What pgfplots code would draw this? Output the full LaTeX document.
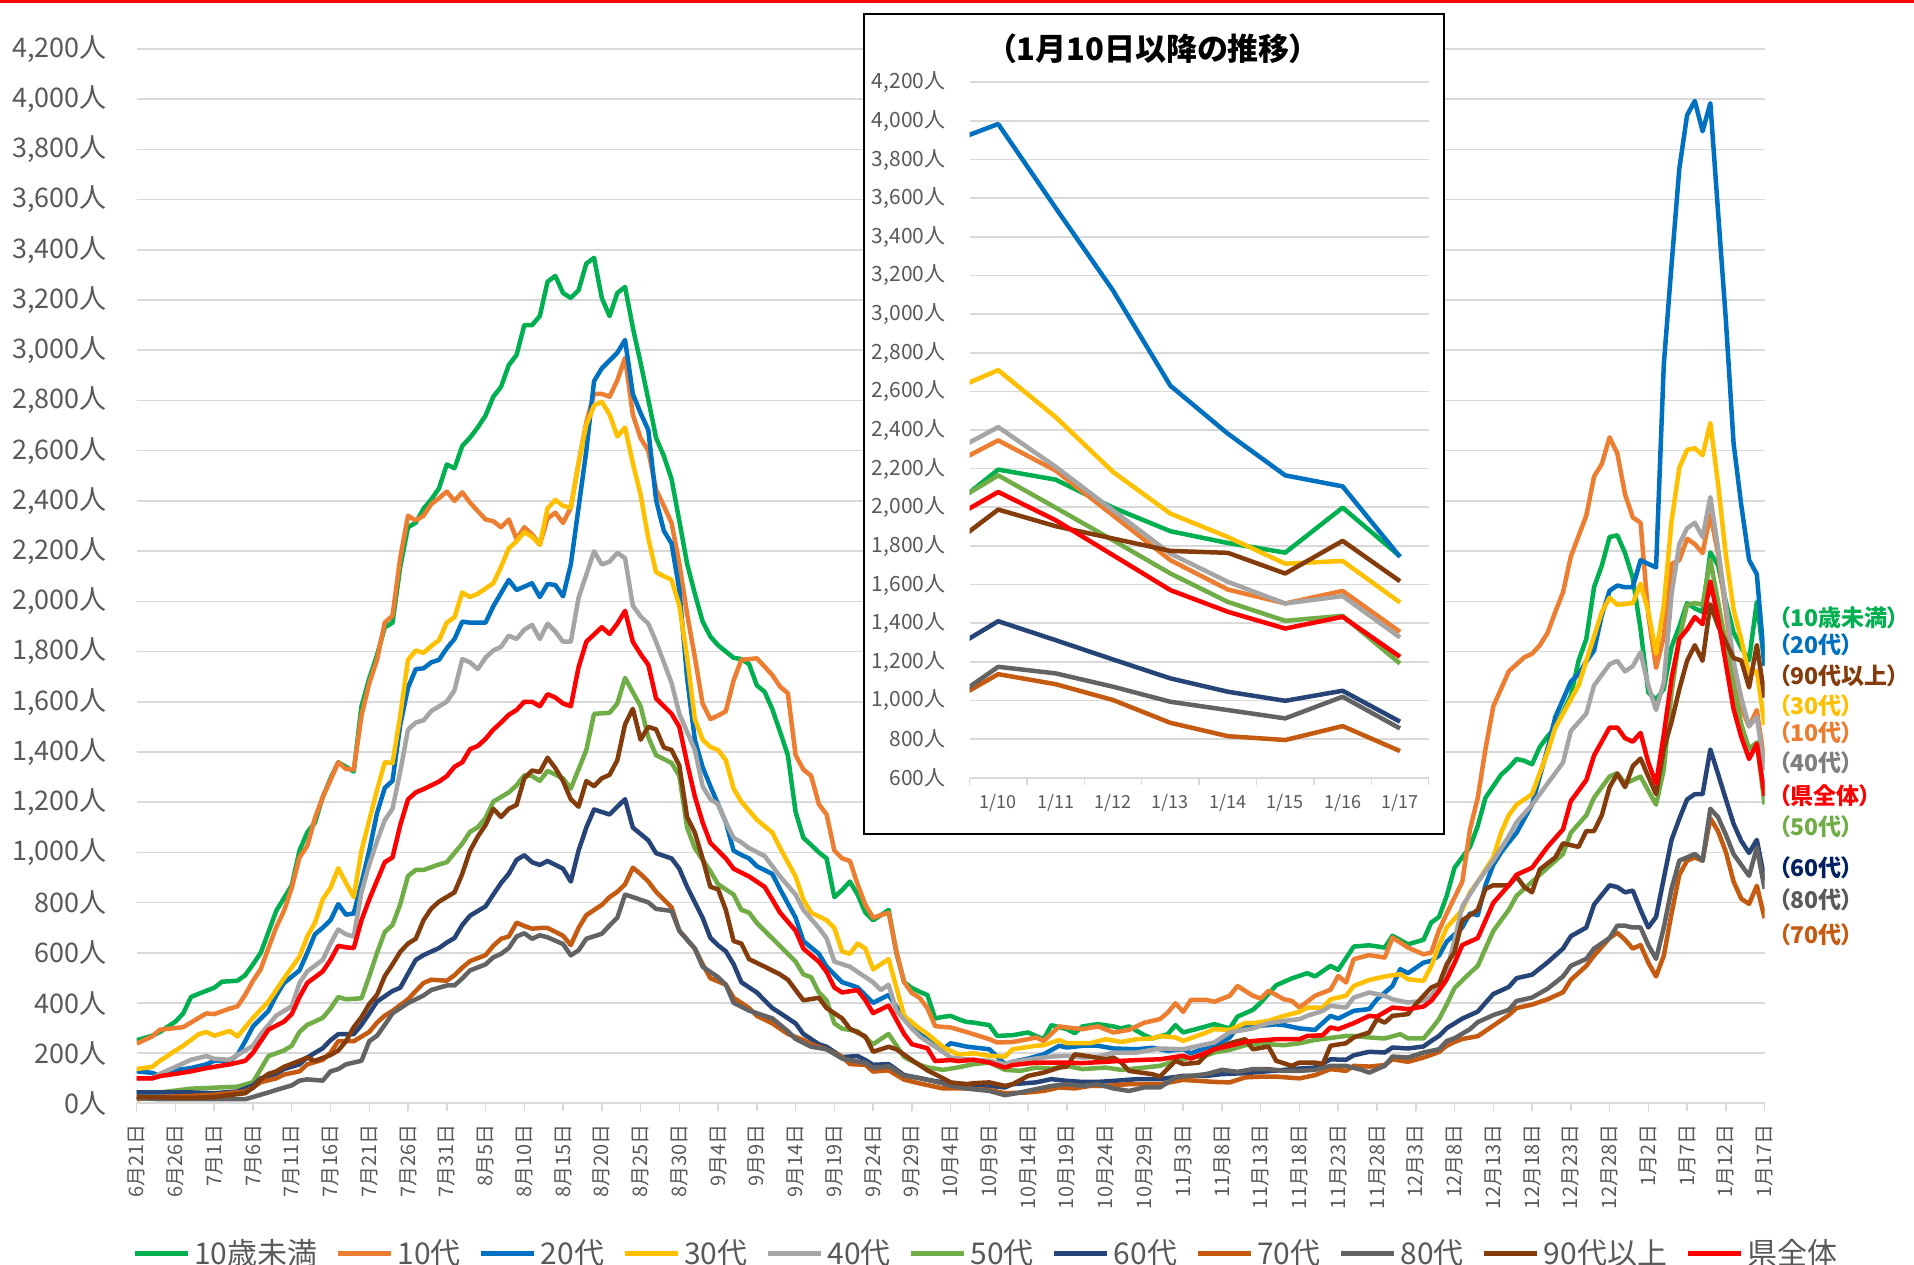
\documentclass[border=0pt]{standalone}
\usepackage{fontspec}
\setmainfont{Noto Sans CJK JP}
\newfontfamily\jpp{Noto Sans CJK JP}[RawFeature=+palt]
\usepackage{pgfplots}
\usepackage{pgfplotstable}
\pgfplotsset{compat=1.18}
\definecolor{cA}{HTML}{00B050}
\definecolor{cB}{HTML}{ED7D31}
\definecolor{cC}{HTML}{0070C0}
\definecolor{cD}{HTML}{FFC000}
\definecolor{cE}{HTML}{A5A5A5}
\definecolor{cF}{HTML}{70AD47}
\definecolor{cG}{HTML}{264478}
\definecolor{cH}{HTML}{C55A11}
\definecolor{cI}{HTML}{636363}
\definecolor{cJ}{HTML}{843C0C}
\definecolor{cK}{HTML}{FF0000}
\definecolor{gridc}{HTML}{D9D9D9}
\definecolor{txtc}{HTML}{595959}
\definecolor{lab40}{HTML}{7F7F7F}
\definecolor{lab60}{HTML}{002060}

\pgfplotstableread{
d v
0 252
2 270
3 285
5 326
6 359
7 424
8 437
10 461
11 485
13 489
14 511
15 554
16 600
17 683
18 767
20 869
21 1007
22 1080
23 1119
24 1220
25 1295
26 1359
27 1341
28 1322
29 1582
30 1693
31 1785
32 1896
33 1915
34 2137
35 2295
36 2313
37 2369
38 2406
39 2450
40 2545
41 2530
42 2619
43 2652
44 2693
45 2740
46 2815
47 2854
48 2941
49 2981
50 3100
51 3100
52 3136
53 3273
54 3296
55 3228
56 3208
57 3239
58 3345
59 3368
60 3208
61 3136
62 3228
63 3252
64 3090
65 2950
66 2803
67 2651
68 2579
69 2486
70 2320
71 2150
72 2030
73 1920
74 1860
75 1825
76 1800
77 1775
78 1770
79 1750
80 1665
81 1640
82 1570
83 1480
84 1387
85 1161
86 1058
87 1030
88 1000
89 976
90 822
91 850
92 884
93 832
94 760
95 730
96 750
97 771
98 600
99 483
100 460
101 445
102 432
103 339
104 345
105 349
106 336
107 325
108 322
110 312
111 269
113 272
115 283
116 269
117 256
118 312
120 296
121 280
122 307
124 316
126 307
127 299
128 307
130 272
131 259
133 276
134 312
135 283
137 299
139 316
141 299
142 346
144 373
145 402
147 471
149 498
151 519
152 506
154 548
155 532
157 625
159 630
161 621
162 668
164 634
166 652
167 721
168 743
169 827
170 939
172 1022
173 1106
174 1218
176 1309
177 1337
178 1372
179 1365
180 1351
181 1420
182 1462
183 1497
185 1623
186 1763
187 1850
188 2056
189 2142
190 2256
191 2263
192 2192
193 2093
194 1888
195 1637
196 1609
197 1651
198 1818
199 1900
200 1993
201 1972
202 1958
203 2195
204 2143
205 1998
206 1876
207 1815
208 1765
209 1998
210 1746
}\tA

\pgfplotstableread{
d v
0 239
2 267
3 294
6 304
8 341
9 359
10 356
12 378
13 387
14 433
15 489
16 535
17 619
18 702
19 767
20 859
21 980
22 1026
23 1137
24 1220
25 1289
26 1359
27 1332
28 1330
29 1545
30 1674
31 1767
32 1915
33 1943
34 2174
35 2341
36 2322
37 2341
38 2387
39 2411
40 2437
41 2400
42 2434
43 2393
45 2326
46 2319
47 2295
48 2326
49 2248
50 2295
51 2267
52 2226
53 2330
54 2353
55 2312
56 2373
57 2550
58 2713
59 2826
60 2826
61 2815
62 2880
63 2970
64 2744
65 2650
66 2600
67 2445
68 2380
69 2312
70 2150
71 1950
72 1778
73 1593
74 1531
75 1545
76 1562
77 1685
78 1767
79 1770
80 1773
81 1740
82 1706
83 1660
84 1634
85 1387
86 1330
87 1305
88 1192
89 1151
90 1007
91 976
92 966
93 873
94 791
95 740
96 750
97 760
98 606
99 483
100 440
101 421
102 380
103 308
104 305
105 303
107 285
110 256
111 243
113 245
115 256
116 263
117 249
119 307
120 303
122 296
124 307
126 283
128 293
130 322
132 336
133 362
134 399
135 365
136 413
138 413
139 405
141 429
142 468
144 429
145 418
146 449
148 415
149 409
150 382
152 429
154 453
155 508
156 482
157 575
159 591
161 581
162 661
164 621
166 594
167 601
168 690
169 757
171 883
172 1092
173 1218
174 1413
175 1581
176 1651
177 1721
178 1749
179 1777
180 1791
181 1825
182 1874
183 1958
184 2036
185 2178
186 2260
187 2341
188 2497
189 2547
190 2653
191 2589
192 2426
193 2334
194 2313
195 1944
196 1735
197 1860
198 2149
199 2164
200 2249
201 2228
202 2192
203 2346
204 2190
205 1958
206 1726
207 1574
208 1502
209 1567
210 1355
}\tB

\pgfplotstableread{
d v
0 128
2 122
3 109
5 133
7 141
9 156
10 170
12 170
13 193
14 248
15 307
17 369
18 430
19 480
21 530
22 600
23 674
24 700
25 730
26 794
27 752
28 757
29 878
30 1007
31 1156
32 1257
33 1285
34 1508
35 1656
36 1730
37 1733
38 1757
39 1767
40 1813
41 1850
42 1919
43 1915
45 1915
46 1980
48 2085
49 2045
51 2072
52 2017
53 2069
54 2065
55 2020
56 2147
57 2373
58 2600
59 2877
60 2928
61 2959
62 2990
63 3041
64 2826
65 2750
66 2682
67 2404
68 2281
69 2230
70 2045
71 1695
72 1449
73 1340
74 1264
75 1192
76 1120
77 1007
78 990
79 976
80 945
82 914
83 853
85 740
86 647
88 596
89 545
91 483
92 473
93 462
95 401
97 432
99 339
101 277
102 257
104 216
105 240
107 227
108 223
110 216
112 157
113 166
115 179
117 196
119 230
120 223
122 230
124 230
126 219
129 216
131 222
133 210
135 216
136 200
138 223
139 230
141 263
142 303
144 307
147 315
148 312
150 299
152 293
154 349
155 338
157 369
159 376
160 415
162 468
163 535
164 519
166 561
167 568
168 589
169 645
171 701
172 757
173 750
174 870
175 950
176 1000
177 1040
178 1078
179 1134
180 1190
181 1302
182 1413
183 1539
184 1609
185 1680
186 1710
187 1760
188 1804
189 1944
190 2042
191 2063
192 2056
193 2057
194 2164
195 2149
196 2135
197 2944
198 3341
199 3723
200 3936
201 3993
202 3872
203 3984
204 3550
205 3122
206 2629
207 2381
208 2165
209 2108
210 1743
}\tC

\pgfplotstableread{
d v
0 137
2 146
3 170
5 211
6 230
8 276
9 285
10 270
12 289
13 267
14 304
15 341
17 406
18 452
19 498
21 585
22 665
23 720
24 813
25 859
26 937
27 878
28 822
29 1007
30 1128
31 1248
32 1359
33 1356
34 1545
35 1767
36 1804
37 1795
38 1822
39 1845
40 1915
41 1937
42 2035
43 2017
44 2030
46 2072
47 2137
48 2211
49 2239
50 2276
51 2257
52 2225
53 2370
54 2404
55 2380
56 2373
57 2550
58 2703
59 2780
60 2795
61 2744
62 2657
63 2692
64 2550
65 2425
66 2250
67 2116
68 2100
69 2086
70 1983
71 1778
72 1531
73 1449
74 1420
75 1408
76 1367
77 1254
78 1202
80 1130
82 1079
83 1017
85 904
86 812
87 760
89 730
90 699
91 606
92 596
93 637
94 617
95 534
97 575
98 462
99 349
101 298
102 277
104 226
105 210
106 195
108 200
110 190
112 187
113 216
116 230
117 232
119 253
120 240
123 240
125 256
127 245
129 256
131 259
132 269
134 263
135 249
138 283
139 296
141 293
143 320
144 320
146 329
148 349
150 365
151 382
153 382
154 415
156 429
157 468
159 492
161 506
163 515
164 495
166 488
167 548
168 628
169 701
171 771
172 841
173 883
175 980
176 1078
177 1148
178 1190
180 1232
181 1316
182 1399
183 1497
185 1609
186 1665
187 1763
188 1860
189 1958
190 2014
191 1986
193 1993
194 2070
195 1958
196 1791
197 1986
198 2320
199 2532
200 2603
201 2610
202 2582
203 2710
204 2467
205 2183
206 1967
207 1846
208 1708
209 1722
210 1507
}\tD

\pgfplotstableread{
d v
0 100
2 100
3 118
5 146
7 174
9 189
10 178
12 174
13 193
15 230
16 276
17 313
18 350
20 387
21 480
22 526
24 572
25 637
26 693
27 674
28 665
29 841
30 952
31 1045
32 1128
33 1174
34 1322
35 1489
36 1517
37 1526
38 1563
40 1600
41 1646
42 1770
43 1757
44 1730
45 1776
46 1804
47 1819
48 1863
49 1850
50 1887
51 1906
52 1850
53 1911
54 1880
55 1839
56 1839
57 2014
58 2106
59 2199
60 2147
61 2158
62 2193
63 2172
64 1983
65 1940
66 1911
67 1839
68 1757
69 1675
70 1552
71 1480
72 1408
73 1264
74 1212
75 1192
76 1120
77 1058
78 1040
79 1017
81 986
82 945
83 904
85 832
86 771
88 699
89 658
90 565
92 545
93 524
95 483
96 452
97 473
98 370
100 298
101 267
104 206
105 183
107 176
110 170
112 157
113 166
116 179
118 187
120 190
122 183
124 187
126 203
129 203
132 219
135 216
136 223
138 236
139 243
141 283
144 299
146 320
148 329
150 336
151 349
153 369
154 389
156 382
157 422
159 442
161 429
162 415
164 402
166 409
167 429
168 470
169 530
170 650
171 785
173 883
175 967
177 1064
178 1120
180 1190
182 1274
184 1358
185 1483
187 1553
188 1665
190 1749
191 1763
192 1721
193 1742
194 1797
195 1665
196 1567
197 1679
198 2028
199 2228
200 2291
201 2313
202 2256
203 2415
204 2210
205 1984
206 1760
207 1614
208 1502
209 1540
210 1326
}\tE

\pgfplotstableread{
d v
0 44
3 44
7 59
10 63
13 67
15 85
16 137
17 189
19 211
20 230
21 285
22 313
24 341
25 378
26 424
27 415
29 419
30 507
31 600
32 683
33 711
34 794
35 906
36 930
37 930
39 952
40 961
41 998
42 1035
43 1082
44 1100
45 1137
46 1202
48 1239
49 1267
50 1307
51 1304
52 1285
53 1325
55 1295
56 1254
58 1408
59 1552
61 1556
62 1593
63 1695
65 1582
66 1459
67 1387
69 1356
70 1305
71 1099
72 1017
74 925
75 873
77 832
78 771
79 760
80 719
81 688
83 627
85 565
86 514
87 503
88 442
89 411
90 319
91 298
93 288
95 236
97 277
99 185
101 154
102 144
104 134
106 144
108 157
110 163
112 134
114 130
116 143
118 139
120 150
122 137
125 143
127 134
130 143
132 150
134 170
136 183
138 192
139 203
141 214
143 232
145 240
146 236
148 232
150 240
152 253
154 261
156 269
157 269
159 263
161 259
163 276
164 259
166 259
167 296
168 336
169 395
170 460
172 520
173 548
175 687
177 771
178 827
180 883
182 939
184 994
185 1078
187 1148
188 1218
190 1302
191 1316
192 1274
194 1302
195 1246
196 1190
197 1330
198 1637
199 1850
200 1986
201 1993
202 1986
203 2165
204 1998
205 1829
206 1657
207 1510
208 1412
209 1438
210 1191
}\tF

\pgfplotstableread{
d v
0 44
7 44
10 41
13 48
15 72
16 100
18 118
19 137
21 156
22 183
23 202
24 220
25 252
26 276
28 276
29 313
30 359
31 406
33 448
34 461
35 517
36 572
37 591
39 619
40 641
41 659
42 711
43 748
45 785
46 832
47 878
48 915
49 970
50 989
51 961
52 950
53 966
55 935
56 884
57 1007
58 1099
59 1171
60 1161
61 1151
62 1182
63 1212
64 1099
66 1048
67 997
69 976
70 935
71 863
72 801
73 740
74 660
75 630
76 606
77 555
78 483
80 442
81 411
82 380
83 360
85 319
86 277
88 236
89 226
91 185
93 189
94 173
95 154
97 157
99 113
101 101
103 89
105 81
107 77
110 70
112 64
113 77
116 84
118 97
120 90
122 86
124 86
126 90
129 97
132 97
135 110
138 110
140 117
143 121
145 126
148 134
150 139
152 143
154 176
156 174
157 192
159 206
161 203
162 223
164 219
166 227
167 249
168 269
169 300
171 338
173 366
175 436
177 464
178 499
180 513
182 562
184 617
185 666
187 701
188 792
190 869
191 862
192 841
193 848
194 771
195 701
196 743
197 897
198 1050
199 1134
200 1211
201 1232
202 1232
203 1410
204 1312
205 1212
206 1114
207 1045
208 998
209 1050
210 890
}\tG

\pgfplotstableread{
d v
0 17
3 26
7 30
10 35
14 48
15 63
16 85
18 100
19 115
21 128
22 156
24 174
25 202
26 248
28 248
30 285
31 322
32 350
33 369
35 415
36 448
37 480
38 493
40 489
41 511
42 541
43 567
45 591
46 628
47 656
48 665
49 720
50 707
51 696
52 699
53 699
55 668
56 631
57 699
58 750
60 791
61 822
62 843
63 873
64 939
65 914
66 884
67 843
68 812
69 781
70 688
72 617
73 555
74 499
76 473
77 421
79 380
80 349
82 319
84 277
86 253
87 236
89 216
91 185
92 157
94 154
95 127
97 132
99 95
101 80
104 60
107 60
110 54
112 41
115 44
117 50
119 64
121 60
123 70
125 70
128 77
132 77
135 94
137 90
139 86
141 84
143 104
145 107
147 107
150 100
152 113
154 137
156 130
157 150
159 147
161 153
162 176
164 166
166 183
168 205
169 230
170 245
171 257
173 268
175 310
177 352
178 380
180 394
182 415
184 443
185 492
187 548
188 589
190 659
191 680
192 652
193 617
194 631
195 561
196 506
197 589
198 757
199 911
200 967
201 980
202 967
203 1136
204 1084
205 1002
206 884
207 815
208 795
209 867
210 738
}\tH

\pgfplotstableread{
d v
0 22
3 17
14 17
15 26
17 44
18 54
20 72
21 91
22 96
24 91
25 128
26 137
27 156
29 170
30 248
31 270
32 313
33 359
35 400
36 415
37 430
38 452
39 461
40 470
41 470
42 498
43 530
45 554
46 582
47 596
48 619
49 665
50 678
51 656
52 670
53 662
55 635
56 590
57 610
58 656
60 676
61 709
62 740
63 832
64 822
66 801
67 775
68 771
69 767
70 688
72 617
73 545
75 503
76 473
77 401
79 370
81 349
82 339
84 288
85 257
87 226
89 216
91 179
92 173
94 162
95 142
97 148
99 111
101 101
104 80
105 70
107 60
110 50
112 33
114 44
116 57
118 70
120 77
122 70
124 77
126 60
128 50
130 64
132 64
134 104
136 110
138 117
140 134
142 126
144 137
146 137
148 130
150 130
152 134
154 150
156 150
158 134
159 123
161 150
162 187
164 183
166 203
168 216
169 249
170 260
172 296
173 324
175 352
177 373
178 408
180 422
182 457
184 506
185 548
187 576
188 617
190 659
191 708
192 708
193 701
194 701
195 631
196 576
197 701
198 855
199 967
200 980
201 994
202 967
203 1174
204 1140
205 1071
206 993
207 950
208 907
209 1019
210 855
}\tI

\pgfplotstableread{
d v
0 26
7 22
10 26
14 41
15 63
16 96
17 118
18 128
19 146
21 170
22 183
23 170
25 193
26 211
27 248
28 304
29 344
30 396
31 433
32 507
33 554
34 604
35 637
36 656
37 730
38 776
39 804
41 841
42 915
43 1007
44 1063
45 1109
46 1174
47 1141
48 1174
49 1189
50 1295
51 1326
52 1320
53 1377
54 1336
55 1284
56 1212
57 1182
58 1284
59 1264
60 1295
61 1309
62 1367
63 1510
64 1572
65 1449
66 1500
67 1490
68 1418
69 1408
70 1346
71 1141
72 1079
73 976
74 863
75 853
76 771
77 647
78 637
79 575
81 545
83 514
84 493
85 452
86 411
88 421
89 380
91 339
92 298
94 267
95 206
97 226
98 216
100 173
102 132
104 101
105 84
107 77
108 81
110 84
112 70
113 77
115 110
117 123
119 143
120 147
121 196
123 187
125 176
126 183
127 163
128 130
130 121
131 117
132 107
134 170
135 157
137 163
138 196
139 216
141 240
143 256
144 216
146 227
147 170
149 150
150 163
152 163
153 157
154 230
156 240
157 263
159 283
160 336
161 322
162 349
164 356
165 395
167 462
168 475
169 555
170 603
171 729
173 771
174 855
175 869
177 869
178 904
179 862
180 841
181 932
183 980
184 1036
186 1022
187 1085
188 1085
189 1148
190 1260
191 1313
192 1260
193 1344
194 1374
195 1302
196 1232
197 1413
198 1520
199 1650
200 1763
201 1825
202 1763
203 1988
204 1902
205 1838
206 1774
207 1764
208 1657
209 1826
210 1617
}\tJ

\pgfplotstableread{
d v
0 100
2 100
3 109
5 118
7 128
9 141
10 146
12 156
14 170
15 202
16 248
17 294
19 326
20 356
21 424
22 480
24 526
25 572
26 628
27 622
28 619
29 730
30 813
31 887
32 961
33 980
34 1109
35 1211
36 1239
37 1252
39 1282
40 1304
41 1341
42 1359
43 1411
44 1424
45 1452
46 1489
47 1517
48 1548
49 1567
50 1600
51 1600
52 1582
53 1630
54 1617
55 1593
56 1582
57 1737
58 1839
60 1897
61 1870
62 1911
63 1962
64 1839
65 1790
66 1747
67 1613
69 1552
70 1500
71 1356
72 1223
73 1120
74 1038
75 1007
76 976
77 935
79 904
81 863
82 812
83 760
85 688
86 617
88 565
89 524
90 462
91 442
93 452
94 411
95 360
97 390
99 277
100 236
102 220
103 169
105 173
106 169
108 174
110 163
112 143
113 153
116 163
119 163
122 161
125 166
127 170
130 174
132 176
135 190
136 179
138 203
139 216
141 230
143 245
144 249
147 256
150 256
151 269
153 272
154 303
155 296
157 320
159 349
160 346
162 382
164 376
166 386
167 409
168 449
169 495
170 560
171 631
173 659
175 799
177 869
178 911
180 939
182 1022
184 1092
185 1204
187 1288
188 1386
190 1497
191 1497
192 1455
193 1441
194 1476
195 1358
196 1274
197 1469
198 1693
199 1850
200 1888
201 1937
202 1909
203 2079
204 1933
205 1752
206 1571
207 1459
208 1372
209 1433
210 1226
}\tK

\begin{document}
\begin{tikzpicture}[x=1pt,y=1pt]
\useasboundingbox (0,0) rectangle (1914,1265);
\fill[white] (0,0) rectangle (1914,1265);
\fill[cK] (0,1262) rectangle (1914,1265);

\begin{axis}[
  at={(136.7pt,161.5pt)}, anchor=south west,
  scale only axis, width=1627.9pt, height=1054.6pt,
  xmin=0, xmax=210, ymin=0, ymax=4200,
  axis lines*=left, axis line style={-},
  y axis line style={draw=none},
  x axis line style={draw=gridc, line width=2pt},
  ytick={0,200,...,4200},
  yticklabels={0人,200人,400人,600人,800人,{1,000人},{1,200人},{1,400人},{1,600人},{1,800人},{2,000人},{2,200人},{2,400人},{2,600人},{2,800人},{3,000人},{3,200人},{3,400人},{3,600人},{3,800人},{4,000人},{4,200人}},
  ytick style={draw=none},
  yticklabel style={font=\fontsize{27}{32}\selectfont, text=txtc, inner sep=0pt, anchor=east},
  yticklabel shift=22pt,
  xtick={0,5,...,210},
  xticklabels={6月21日,6月26日,7月1日,7月6日,7月11日,7月16日,7月21日,7月26日,7月31日,8月5日,8月10日,8月15日,8月20日,8月25日,8月30日,9月4日,9月9日,9月14日,9月19日,9月24日,9月29日,10月4日,10月9日,10月14日,10月19日,10月24日,10月29日,11月3日,11月8日,11月13日,11月18日,11月23日,11月28日,12月3日,12月8日,12月13日,12月18日,12月23日,12月28日,1月2日,1月7日,1月12日,1月17日},
  tick align=outside, major tick length=8pt,
  xtick style={draw=gridc, line width=1.5pt},
  xticklabel style={font=\fontsize{20}{24}\selectfont, text=txtc, rotate=90, anchor=east, inner sep=0pt},
  xticklabel shift=13pt,
  ymajorgrids, grid style={draw=gridc, line width=1.6pt},
  every axis plot/.append style={line width=4.5pt, line join=round},
  legend columns=11,
  legend style={at={(-0.0029,-0.1418)}, anchor=west, draw=none, fill=none, inner sep=0pt,
    font=\fontsize{30}{36}\selectfont, text=txtc, nodes={inner sep=0pt},
    /tikz/every odd column/.append style={column sep=4pt},
    /tikz/every even column/.append style={column sep=18pt}},
  legend image code/.code={\draw[#1, line width=5pt] (0pt,0pt) -- (53pt,0pt);},
]
\addplot[cA] table[x=d,y=v] {\tA}; \addlegendentry{10歳未満}
\addplot[cB] table[x=d,y=v] {\tB}; \addlegendentry{10代}
\addplot[cC] table[x=d,y=v] {\tC}; \addlegendentry{20代}
\addplot[cD] table[x=d,y=v] {\tD}; \addlegendentry{30代}
\addplot[cE] table[x=d,y=v] {\tE}; \addlegendentry{40代}
\addplot[cF] table[x=d,y=v] {\tF}; \addlegendentry{50代}
\addplot[cG] table[x=d,y=v] {\tG}; \addlegendentry{60代}
\addplot[cH] table[x=d,y=v] {\tH}; \addlegendentry{70代}
\addplot[cI] table[x=d,y=v] {\tI}; \addlegendentry{80代}
\addplot[cJ] table[x=d,y=v] {\tJ}; \addlegendentry{90代以上}
\addplot[cK] table[x=d,y=v] {\tK}; \addlegendentry{県全体}
\end{axis}

% inset
\filldraw[fill=white, draw=black, line width=2pt] (863.8,431) rectangle (1443.6,1251);
\node[font=\jpp\bfseries\fontsize{31}{36}\selectfont, text=black] at (1153,1216) {（1月10日以降の推移）};

\begin{axis}[
  at={(969.5pt,487.3pt)}, anchor=south west,
  scale only axis, width=459.2pt, height=695.4pt,
  xmin=9.5, xmax=17.5, ymin=600, ymax=4200,
  axis lines*=left, axis line style={-},
  y axis line style={draw=none},
  x axis line style={draw=gridc, line width=2pt},
  ytick={600,800,...,4200},
  yticklabels={600人,800人,{1,000人},{1,200人},{1,400人},{1,600人},{1,800人},{2,000人},{2,200人},{2,400人},{2,600人},{2,800人},{3,000人},{3,200人},{3,400人},{3,600人},{3,800人},{4,000人},{4,200人}},
  ytick style={draw=none},
  yticklabel style={font=\fontsize{21}{25}\selectfont, text=txtc, inner sep=0pt, anchor=east},
  yticklabel shift=24pt,
  xtick={10,...,17},
  xticklabels={1/10,1/11,1/12,1/13,1/14,1/15,1/16,1/17},
  minor xtick={9.5,10.5,...,17.5},
  tick align=outside, major tick length=0pt, minor tick length=7pt,
  minor tick style={draw=gridc, line width=1.5pt},
  xticklabel style={font=\fontsize{18}{22}\selectfont, text=txtc, inner sep=0pt, anchor=north},
  xticklabel shift=16pt,
  ymajorgrids, grid style={draw=gridc, line width=1.6pt},
  every axis plot/.append style={line width=4.5pt, line join=round, restrict x to domain=8:18},
]
\addplot[cA] table[x expr=\thisrow{d}-193,y=v] {\tA};
\addplot[cB] table[x expr=\thisrow{d}-193,y=v] {\tB};
\addplot[cC] table[x expr=\thisrow{d}-193,y=v] {\tC};
\addplot[cD] table[x expr=\thisrow{d}-193,y=v] {\tD};
\addplot[cE] table[x expr=\thisrow{d}-193,y=v] {\tE};
\addplot[cF] table[x expr=\thisrow{d}-193,y=v] {\tF};
\addplot[cG] table[x expr=\thisrow{d}-193,y=v] {\tG};
\addplot[cH] table[x expr=\thisrow{d}-193,y=v] {\tH};
\addplot[cI] table[x expr=\thisrow{d}-193,y=v] {\tI};
\addplot[cJ] table[x expr=\thisrow{d}-193,y=v] {\tJ};
\addplot[cK] table[x expr=\thisrow{d}-193,y=v] {\tK};
\end{axis}

% right-side labels
\begin{scope}[every node/.style={anchor=west, inner sep=0pt, font=\jpp\bfseries\fontsize{23}{27}\selectfont}]
\node[text=cA] at (1779,647) {（10歳未満）};
\node[text=cC] at (1779,620) {（20代）};
\node[text=cJ] at (1779,589) {（90代以上）};
\node[text=cD] at (1779,559) {（30代）};
\node[text=cB] at (1779,532) {（10代）};
\node[text=lab40] at (1779,502) {（40代）};
\node[text=cK] at (1779,469) {（県全体）};
\node[text=cF] at (1779,438) {（50代）};
\node[text=lab60] at (1779,397) {（60代）};
\node[text=txtc] at (1779,365) {（80代）};
\node[text=cH] at (1779,330) {（70代）};
\end{scope}
\end{tikzpicture}
\end{document}
